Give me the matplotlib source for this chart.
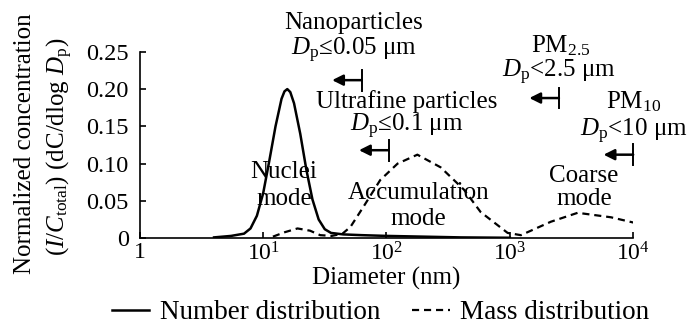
import numpy as np
import matplotlib
matplotlib.use("Agg")
import matplotlib.pyplot as plt

plt.rcParams['font.family'] = ['Liberation Serif', 'DejaVu Serif']
plt.rcParams['mathtext.fontset'] = 'custom'
plt.rcParams['mathtext.rm'] = 'Liberation Serif'
plt.rcParams['mathtext.it'] = 'Liberation Serif:italic'

# Number distribution (solid): diameter in nm, normalized concentration
num_d = [4.0, 5.5, 7.0, 7.9, 8.9, 10.0, 11.2, 12.6, 14.1, 14.9, 15.7, 16.6, 17.8,
         20.0, 22.4, 25.1, 28.2, 31.6, 35.5, 44.7, 63.1, 100, 200, 400, 1000]
num_c = [0.001, 0.003, 0.006, 0.013, 0.030, 0.060, 0.103, 0.150, 0.187, 0.197, 0.200,
         0.196, 0.181, 0.140, 0.092, 0.052, 0.025, 0.012, 0.007, 0.005, 0.004, 0.003,
         0.002, 0.001, 0.0005]

# Mass distribution (dashed)
mass_d = [12, 15, 19, 24, 29, 36, 44, 51, 65, 89, 123, 178, 275, 425, 580, 960,
          1230, 2150, 3550, 6600, 10000]
mass_c = [0.002, 0.008, 0.013, 0.010, 0.004, 0.003, 0.006, 0.015, 0.042, 0.078, 0.100,
          0.112, 0.095, 0.065, 0.035, 0.007, 0.004, 0.022, 0.034, 0.028, 0.021]

x_ticks = [1, 10, 100, 1000, 10000]
x_ticklabels = ['1', r'10$^{1}$', r'10$^{2}$', r'10$^{3}$', r'10$^{4}$']
y_ticks = [0, 0.05, 0.10, 0.15, 0.20, 0.25]
y_ticklabels = ['0', '0.05', '0.10', '0.15', '0.20', '0.25']

fs = 18

fig = plt.figure(figsize=(6.92, 3.24), dpi=100)
ax = fig.add_axes([0.202, 0.265, 0.713, 0.575])

ax.plot(num_d, num_c, color='black', lw=1.8, label='Number distribution')
ax.plot(mass_d, mass_c, color='black', lw=1.6, dashes=(3.2, 2.2), label='Mass distribution')

ax.set_xscale('log')
ax.set_xlim(1, 1e4)
ax.set_ylim(0, 0.25)
ax.set_xticks(x_ticks)
ax.set_xticklabels(x_ticklabels, fontsize=17)
ax.xaxis.set_minor_locator(matplotlib.ticker.NullLocator())
ax.set_yticks(y_ticks)
ax.set_yticklabels(y_ticklabels, fontsize=17.5)
ax.tick_params(axis='both', direction='in', length=4, width=1.2)
ax.tick_params(axis='y', pad=8)
ax.tick_params(axis='x', pad=3)
for s in ['top', 'right']:
    ax.spines[s].set_visible(False)
for s in ['left', 'bottom']:
    ax.spines[s].set_linewidth(1.2)

ax.set_xlabel('Diameter (nm)', fontsize=fs, labelpad=1)

fig.text(0.036, 0.556, 'Normalized concentration', rotation=90, fontsize=fs,
         ha='center', va='center')
fig.text(0.087, 0.547, r'$(I/C_{\mathrm{total}})$ (dC/dlog $D_{\mathrm{p}}$)', rotation=90,
         fontsize=fs, ha='center', va='center')

# Size-class annotations: arrow pointing to smaller sizes, bar at the cut-off
def size_marker(x_bar, y, head_len=0.24):
    ax.annotate('', xy=(x_bar / 10 ** head_len, y), xytext=(x_bar, y),
                arrowprops=dict(arrowstyle='-|>', color='black', lw=1.8,
                                mutation_scale=16, shrinkA=0, shrinkB=0))
    ax.plot([x_bar, x_bar], [y - 0.014, y + 0.014], color='black', lw=1.4,
            clip_on=False)

tfs = fs
ax.text(54, 0.289, 'Nanoparticles', fontsize=tfs, ha='center', va='center', clip_on=False)
ax.text(54, 0.252, r'$D_{\mathrm{p}}$≤0.05 μm', fontsize=tfs, ha='center', va='center',
        clip_on=False)
size_marker(63, 0.212)

ax.text(145, 0.183, 'Ultrafine particles', fontsize=tfs, ha='center', va='center')
ax.text(145, 0.150, r'$D_{\mathrm{p}}$≤0.1 μm', fontsize=tfs, ha='center', va='center')
size_marker(104, 0.118)

ax.text(2600, 0.258, r'PM$_{2.5}$', fontsize=tfs, ha='center', va='center', clip_on=False)
ax.text(2500, 0.223, r'$D_{\mathrm{p}}$<2.5 μm', fontsize=tfs, ha='center', va='center')
size_marker(2500, 0.188)

ax.text(10000, 0.183, r'PM$_{10}$', fontsize=tfs, ha='center', va='center', clip_on=False)
ax.text(10200, 0.143, r'$D_{\mathrm{p}}$<10 μm', fontsize=tfs, ha='center', va='center',
        clip_on=False)
size_marker(10000, 0.112)

ax.text(14.8, 0.089, 'Nuclei', fontsize=tfs, ha='center', va='center')
ax.text(14.8, 0.053, 'mode', fontsize=tfs, ha='center', va='center')
ax.text(182, 0.060, 'Accumulation', fontsize=tfs, ha='center', va='center')
ax.text(182, 0.026, 'mode', fontsize=tfs, ha='center', va='center')
ax.text(4000, 0.084, 'Coarse', fontsize=tfs, ha='center', va='center')
ax.text(4000, 0.052, 'mode', fontsize=tfs, ha='center', va='center')

fig.legend(loc='center', bbox_to_anchor=(0.55, 0.035), ncol=2, frameon=False,
           fontsize=19.5, handlelength=1.37, handletextpad=0.4, columnspacing=1.2)

fig.savefig('out.png', dpi=100)
